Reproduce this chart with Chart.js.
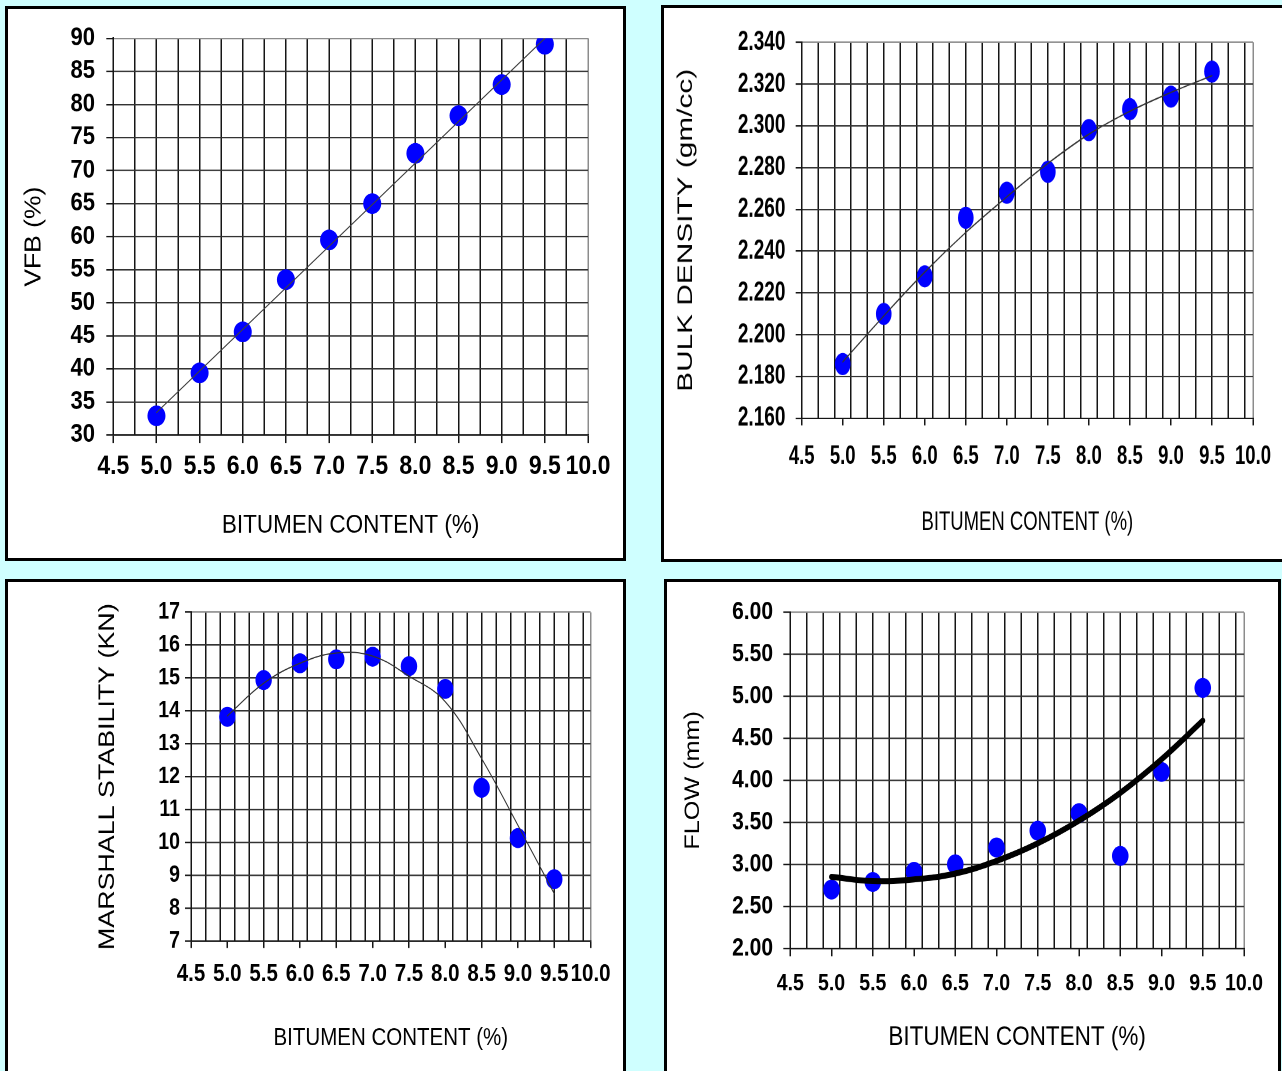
<!DOCTYPE html>
<html>
<head>
<meta charset="utf-8">
<title>Marshall test results</title>
<script src="https://cdn.jsdelivr.net/npm/chart.js@4.4.1/dist/chart.umd.min.js"></script>
<style>
  body {
    margin: 0;
    width: 1282px;
    height: 1071px;
    overflow: hidden;
    position: relative;
    background: #cfffff;
  }
  .panel {
    position: absolute;
    box-sizing: border-box;
    border: 3px solid #000;
    background: #fff;
    overflow: hidden;
  }
  .stretch {
    position: absolute;
    left: 0;
    top: 0;
    transform-origin: 0 0;
  }
</style>
</head>
<body>

<div class="panel" style="left:5px; top:6px; width:621px; height:555px;">
  <div class="stretch" id="wrap1"><canvas id="vfbChart"></canvas></div>
</div>
<div class="panel" style="left:661px; top:5px; width:630px; height:557px;">
  <div class="stretch" id="wrap2"><canvas id="densityChart"></canvas></div>
</div>
<div class="panel" style="left:5px; top:579px; width:621px; height:496px;">
  <div class="stretch" id="wrap3"><canvas id="stabilityChart"></canvas></div>
</div>
<div class="panel" style="left:664px; top:579px; width:617px; height:496px;">
  <div class="stretch" id="wrap4"><canvas id="flowChart"></canvas></div>
</div>

<script>
// DATA

const bitumen = [5.0, 5.5, 6.0, 6.5, 7.0, 7.5, 8.0, 8.5, 9.0, 9.5];
const xLabels = ["4.5", "5.0", "5.5", "6.0", "6.5", "7.0", "7.5", "8.0", "8.5", "9.0", "9.5", "10.0"];

const vfb = [32.9, 39.4, 45.6, 53.5, 59.5, 65.0, 72.6, 78.3, 83.0, 89.1];
const vfbTrendX = [5.0, 9.5];
const vfbTrend = [33.4, 90.0];
const vfbTicks = [30, 35, 40, 45, 50, 55, 60, 65, 70, 75, 80, 85, 90];

const density = [2.186, 2.210, 2.228, 2.256, 2.268, 2.278, 2.298, 2.308, 2.314, 2.326];
const densityTrend = [2.187, 2.209, 2.230, 2.249, 2.266, 2.282, 2.296, 2.307, 2.316, 2.324];
const densityTicks = [2.160, 2.180, 2.200, 2.220, 2.240, 2.260, 2.280, 2.300, 2.320, 2.340];

const stability = [13.82, 14.94, 15.45, 15.57, 15.65, 15.36, 14.67, 11.66, 10.13, 8.88];
const stabilityTrend = [13.85, 14.84, 15.45, 15.76, 15.67, 15.06, 14.28, 12.55, 10.52, 8.44];
const stabilityTicks = [7, 8, 9, 10, 11, 12, 13, 14, 15, 16, 17];

const flow = [2.70, 2.79, 2.91, 3.00, 3.20, 3.40, 3.61, 3.10, 4.10, 5.10];
const flowTrend = [2.85, 2.80, 2.82, 2.89, 3.04, 3.25, 3.52, 3.85, 4.25, 4.71];
const flowTicks = [2.00, 2.50, 3.00, 3.50, 4.00, 4.50, 5.00, 5.50, 6.00];

Chart.defaults.font.family = "'Liberation Sans', Arial, sans-serif";
Chart.defaults.color = "#000";

const EDGE = "#8c8c8c";
const NONE = "rgba(0,0,0,0)";


// X TICKS: minor grid lines plus labelled major ticks

function buildXTicks(step) {
  const major = xLabels.map(Number);
  const xMin = major[0];
  const xMax = major[major.length - 1];
  const ticks = [];

  for (let i = 0; ; i++) {
    const v = Math.round((xMin + i * step) * 1000) / 1000;
    if (v > xMax + 0.0001) break;
    ticks.push({ value: v, grid: true, mark: false });
  }

  major.forEach(m => {
    const found = ticks.find(t => Math.abs(t.value - m) < 0.0001);
    if (found) {
      found.mark = true;
    } else {
      ticks.push({ value: m, grid: m === xMax, mark: true });
    }
  });

  ticks.sort((a, b) => a.value - b.value);
  return ticks;
}

function xLabelFor(value) {
  const idx = xLabels.findIndex(l => Math.abs(Number(l) - value) < 0.0001);
  return idx >= 0 ? xLabels[idx] : "";
}


// BUILD ONE PANEL

function makePanel(p) {
  const wrap = document.getElementById(p.wrap);
  const canvasH = Math.round(p.inner.h / p.k);
  const k = p.inner.h / canvasH;

  wrap.style.width = p.inner.w + "px";
  wrap.style.height = canvasH + "px";
  wrap.style.transform = "scaleY(" + k + ")";

  // page y -> canvas y
  const toY = y => (y - p.inner.top) / k;

  const plotTop = toY(p.plot.top);
  const plotBottom = toY(p.plot.bottom);
  const yAxisW = p.plot.left - p.inner.left;
  const xAxisH = canvasH - plotBottom;
  const padRight = p.inner.left + p.inner.w - p.plot.right;

  const xTickLen = p.xTickLen / k;
  const xTickPad = toY(p.xLabelY) - plotBottom - xTickLen - p.xTickSize * 0.6;
  const yTickPad = p.plot.left - p.yTickLen - p.yLabelRight;
  const xTitlePad = canvasH - toY(p.xTitleY) - p.xTitleSize * 0.6;
  const yTitlePad = (p.yTitleX - p.inner.left) - p.yTitleSize * 0.6;

  const xTicks = buildXTicks(p.xStep);
  const xMax = Number(xLabels[xLabels.length - 1]);
  const yTicks = p.yTicks;
  const yMax = yTicks[yTicks.length - 1];

  new Chart(document.getElementById(p.canvas), {
    type: "scatter",
    data: {
      datasets: [
        {
          // trend line (drawn on top)
          data: p.trendX.map((x, i) => ({ x, y: p.trendY[i] })),
          showLine: true,
          borderColor: p.trendColor,
          borderWidth: p.trendWidth,
          borderCapStyle: "round",
          pointRadius: 0,
          tension: p.smooth ? 0.4 : 0
        },
        {
          data: bitumen.map((x, i) => ({ x, y: p.values[i] })),
          backgroundColor: "#0000ff",
          borderWidth: 0,
          pointRadius: p.radius,
          showLine: false
        }
      ]
    },
    options: {
      responsive: true,
      maintainAspectRatio: false,
      devicePixelRatio: 2,
      animation: false,
      events: [],
      layout: { padding: { top: plotTop, right: padRight, left: 0, bottom: 0 } },
      plugins: {
        legend: { display: false },
        tooltip: { enabled: false }
      },
      scales: {
        x: {
          type: "linear",
          min: Number(xLabels[0]),
          max: xMax,
          afterBuildTicks: s => { s.ticks = xTicks.map(t => Object.assign({}, t)); },
          afterFit: s => { s.height = xAxisH; },
          grid: {
            color: c => !c.tick.grid ? NONE : (c.tick.value === xMax ? EDGE : "#151515"),
            lineWidth: 1.5,
            tickLength: xTickLen,
            tickColor: c => c.tick.mark ? "#151515" : NONE,
            tickWidth: 1.5
          },
          border: { color: "#151515", width: 1.5 / k },
          ticks: {
            autoSkip: false,
            maxRotation: 0,
            minRotation: 0,
            padding: xTickPad,
            font: { size: p.xTickSize, weight: "bold" },
            callback: v => xLabelFor(v)
          },
          title: {
            display: true,
            text: "BITUMEN CONTENT (%)",
            font: { size: p.xTitleSize },
            padding: { top: 0, bottom: xTitlePad }
          }
        },
        y: {
          type: "linear",
          min: yTicks[0],
          max: yMax,
          afterBuildTicks: s => { s.ticks = yTicks.map(v => ({ value: v })); },
          afterFit: s => { s.width = yAxisW; },
          grid: {
            color: c => Math.abs(c.tick.value - yMax) < 1e-9 ? EDGE : "#333",
            lineWidth: 1.5 / k,
            tickLength: p.yTickLen,
            tickColor: "#151515",
            tickWidth: 1.5 / k
          },
          border: { color: "#151515", width: 1.5 },
          ticks: {
            autoSkip: false,
            padding: yTickPad,
            font: { size: p.yTickSize, weight: "bold" },
            callback: v => v.toFixed(p.yDigits)
          },
          title: {
            display: true,
            text: p.yTitle,
            font: { size: p.yTitleSize },
            padding: { top: yTitlePad, bottom: 0 }
          }
        }
      }
    }
  });
}


// THE FOUR PANELS

makePanel({
  wrap: "wrap1", canvas: "vfbChart", k: 1.15,
  inner: { left: 8, top: 9, w: 615, h: 549 },
  plot: { left: 113.3, right: 588, top: 38.3, bottom: 435 },
  xStep: 0.25, xTickLen: 8, xTickSize: 23, xLabelY: 466.7,
  xTitleSize: 22.5, xTitleY: 525.7,
  yTicks: vfbTicks, yDigits: 0, yTickLen: 7, yLabelRight: 95, yTickSize: 22,
  yTitle: "VFB (%)", yTitleSize: 23, yTitleX: 34,
  values: vfb, trendX: vfbTrendX, trendY: vfbTrend,
  trendColor: "#404040", trendWidth: 1, smooth: false, radius: 9
});

makePanel({
  wrap: "wrap2", canvas: "densityChart", k: 1.42,
  inner: { left: 664, top: 8, w: 624, h: 551 },
  plot: { left: 801.7, right: 1253, top: 42.3, bottom: 418.3 },
  xStep: 0.2, xTickLen: 7, xTickSize: 18.5, xLabelY: 456.7,
  xTitleSize: 18.5, xTitleY: 522.3,
  yTicks: densityTicks, yDigits: 3, yTickLen: 6, yLabelRight: 785.4, yTickSize: 19,
  yTitle: "BULK DENSITY (gm/cc)", yTitleSize: 21, yTitleX: 686,
  values: density, trendX: bitumen, trendY: densityTrend,
  trendColor: "#333", trendWidth: 1, smooth: true, radius: 7.8
});

makePanel({
  wrap: "wrap3", canvas: "stabilityChart", k: 1.22,
  inner: { left: 8, top: 582, w: 615, h: 490 },
  plot: { left: 191, right: 590.6, top: 612.3, bottom: 941 },
  xStep: 0.2, xTickLen: 7, xTickSize: 20.5, xLabelY: 974,
  xTitleSize: 20.5, xTitleY: 1038.3,
  yTicks: stabilityTicks, yDigits: 0, yTickLen: 6, yLabelRight: 180, yTickSize: 19.5,
  yTitle: "MARSHALL STABILITY (KN)", yTitleSize: 22, yTitleX: 108,
  values: stability, trendX: bitumen, trendY: stabilityTrend,
  trendColor: "#333", trendWidth: 1, smooth: true, radius: 8.2
});

makePanel({
  wrap: "wrap4", canvas: "flowChart", k: 1.2,
  inner: { left: 667, top: 582, w: 611, h: 490 },
  plot: { left: 790.3, right: 1244, top: 612.3, bottom: 948.3 },
  xStep: 0.2, xTickLen: 8, xTickSize: 19.5, xLabelY: 984,
  xTitleSize: 22.5, xTitleY: 1037.3,
  yTicks: flowTicks, yDigits: 2, yTickLen: 7, yLabelRight: 773, yTickSize: 21,
  yTitle: "FLOW (mm)", yTitleSize: 21, yTitleX: 693,
  values: flow, trendX: bitumen, trendY: flowTrend,
  trendColor: "#000", trendWidth: 5, smooth: true, radius: 8.3
});
</script>
</body>
</html>
